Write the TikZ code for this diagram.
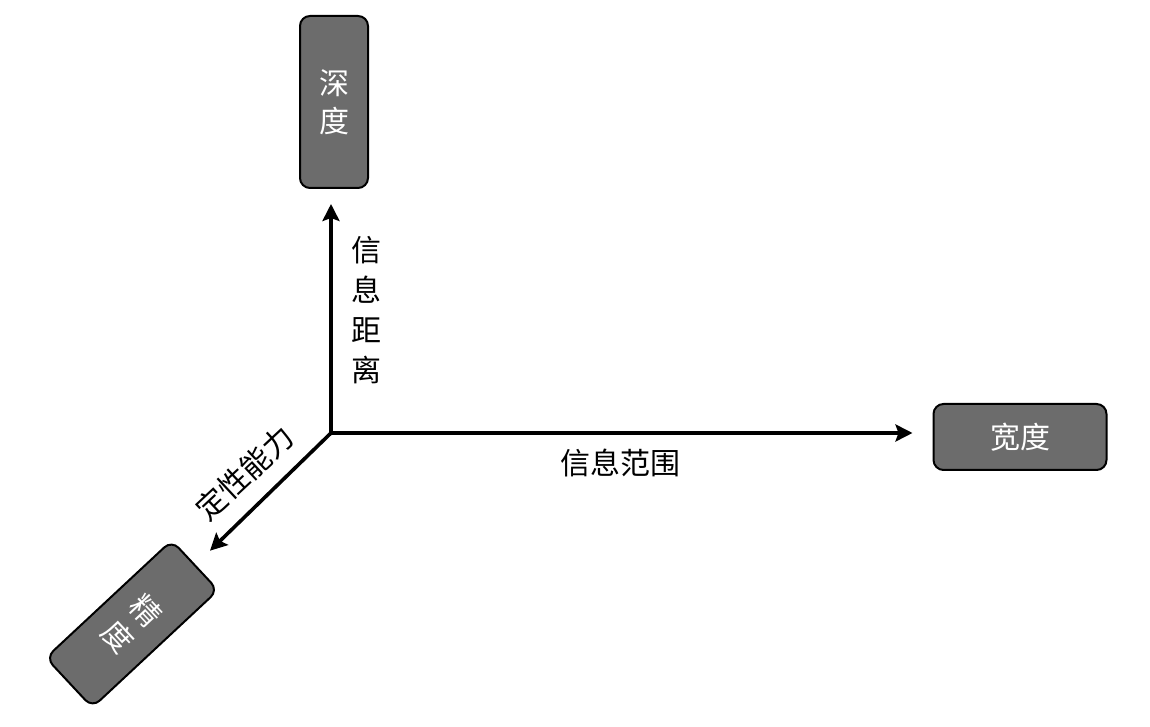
\documentclass[tikz,border=0pt]{standalone}
\usepackage{fontspec}
\newfontfamily\cjk{Noto Sans CJK SC}
\usetikzlibrary{arrows.meta}
\definecolor{boxgray}{RGB}{108,108,108}

\begin{document}
\begin{tikzpicture}[x=1pt, y=1pt,
    dimbox/.style={draw=black, line width=2pt, fill=boxgray, rounded corners=10pt,
        text=white, font=\cjk\fontsize{30}{38}\selectfont, align=center, inner sep=0pt},
    axis/.style={line width=3.6pt, -{Stealth[length=17pt, width=17pt, inset=3pt]}},
    axislabel/.style={font=\cjk\fontsize{30}{40}\selectfont, align=center, inner sep=0pt}]
    \useasboundingbox (0, 0) rectangle (1150, 727);

    % Origin
    \coordinate (origin) at (331, 294);

    % Dimension boxes
    \node[dimbox, minimum width=68pt, minimum height=172pt] (depth) at (334, 625) {深\\度};
    \node[dimbox, minimum width=173pt, minimum height=66pt] (breadth) at (1020, 290) {宽度};
    \node[dimbox, minimum width=68pt, minimum height=172pt, rotate=-47] (precision) at (132, 103) {精\\度};

    % Axes
    \draw[axis, shorten >=15pt] (origin) -- (origin |- depth.south);
    \draw[axis, shorten >=20pt] (origin) -- (origin -| breadth.west);
    \draw[axis, shorten >=20pt] (origin) -- (precision.north);

    % Axis labels
    \node[axislabel] (distance) at (366, 417) {信\\息\\距\\离};
    \node[axislabel] (scope) at (620, 264) {信息范围};
    \node[axislabel, rotate=43] (quality) at (245, 254) {定性能力};
\end{tikzpicture}
\end{document}
